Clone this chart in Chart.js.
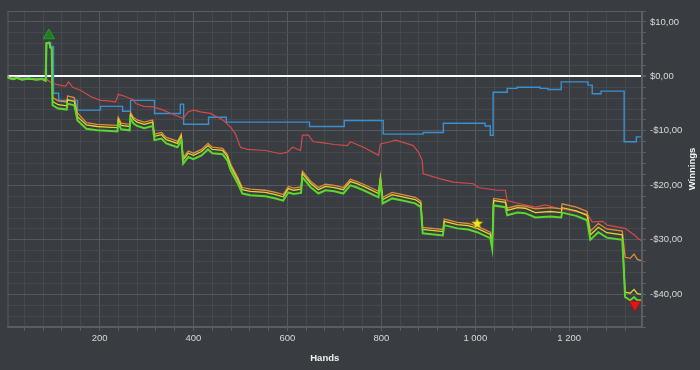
<!DOCTYPE html>
<html>
<head>
<meta charset="utf-8">
<script src="https://cdn.jsdelivr.net/npm/chart.js@4.4.1/dist/chart.umd.min.js"></script>
<style>
  html, body { margin: 0; padding: 0; background: #393c40; }
  #wrap { width: 700px; height: 370px; }
</style>
</head>
<body>
<div id="wrap"><canvas id="chart" width="700" height="370"></canvas></div>
<script>
// hands shared by the green / yellow / orange lines
const netHands = [4, 15, 25, 35, 50, 65, 78, 85, 87, 93, 95, 98,
  100, 112, 130, 132, 146, 149, 153, 172, 195, 215, 238, 240, 246, 264, 266, 272, 280, 295,
  313, 317, 332, 342, 366, 374, 378, 389, 400, 417, 431, 440, 462, 472, 479, 494, 504, 521,
  553, 575, 591, 602, 613, 629, 632, 649, 666, 681, 700, 719, 734, 748, 762, 794, 798, 803,
  823, 845, 872, 884, 888, 931, 934, 962, 985, 1004, 1032, 1036, 1039, 1064, 1068, 1090,
  1106, 1128, 1160, 1183, 1185, 1215, 1238, 1245, 1251, 1262, 1280, 1313, 1319, 1330, 1338, 1345, 1353];

const netWon = [-0.2, -0.5, -0.3, -0.6, -0.4, -0.6, -0.5, -0.8, 6.1, 6.2, 5.3, 5.2,
  -5.3, -5.9, -6.1, -5.0, -5.3, -6.4, -8.1, -9.6, -9.9, -10.0, -10.1, -8.6, -9.7, -9.9, -7.7, -8.6, -9.1, -9.5,
  -9.1, -11.7, -11.4, -12.3, -13.0, -11.7, -16.0, -14.8, -15.2, -14.5, -13.4, -14.1, -14.3, -15.4, -17.2, -19.6, -21.5, -21.8,
  -22.0, -22.4, -22.8, -21.3, -21.6, -21.4, -18.5, -20.3, -21.5, -20.9, -21.1, -21.5, -20.0, -20.4, -20.9, -22.2, -19.4, -23.3,
  -22.4, -22.8, -23.3, -24.0, -28.8, -29.2, -27.3, -27.9, -28.1, -28.6, -29.7, -31.6, -23.7, -24.0, -25.5, -25.0,
  -25.1, -25.9, -25.7, -25.9, -25.0, -25.6, -26.4, -30.0, -29.5, -28.6, -29.6, -30.0, -40.5, -41.1, -40.5, -41.1, -41.1];

const netNoRake = [-0.2, -0.5, -0.3, -0.6, -0.4, -0.6, -0.5, -0.8, 6.1, 6.2, 5.3, 5.2,
  -4.6, -5.2, -5.4, -4.3, -4.6, -5.7, -7.4, -8.9, -9.2, -9.3, -9.4, -7.9, -9.0, -9.2, -7.0, -7.9, -8.4, -8.8,
  -8.4, -11.0, -10.7, -11.6, -12.3, -11.0, -15.3, -14.1, -14.5, -13.8, -12.7, -13.4, -13.6, -14.7, -16.5, -18.9, -20.8, -21.1,
  -21.3, -21.7, -22.1, -20.6, -20.9, -20.7, -17.8, -19.6, -20.8, -20.2, -20.4, -20.8, -19.3, -19.7, -20.2, -21.5, -18.7, -22.6,
  -21.7, -22.1, -22.6, -23.3, -28.1, -28.5, -26.6, -27.2, -27.4, -27.9, -29.0, -30.9, -22.8, -23.1, -24.6, -24.1,
  -24.2, -25.0, -24.8, -25.0, -24.1, -24.7, -25.5, -29.1, -28.6, -27.7, -28.7, -29.1, -39.6, -39.8, -39.1, -39.9, -40.0];

const allInEv = [-0.2, -0.5, -0.3, -0.6, -0.4, -0.6, -0.5, -0.8, 6.1, 6.2, 5.3, 5.2,
  -3.9, -4.5, -4.7, -3.6, -3.9, -5.0, -6.7, -8.5, -8.8, -8.9, -9.0, -7.5, -8.6, -8.8, -6.6, -7.5, -8.0, -8.4,
  -8.0, -10.6, -10.3, -11.2, -11.9, -10.6, -14.9, -13.7, -14.1, -13.4, -12.3, -13.0, -13.2, -14.3, -16.1, -18.5, -20.4, -20.7,
  -20.9, -21.3, -21.7, -20.2, -20.5, -20.3, -17.4, -19.2, -20.4, -19.8, -20.0, -20.4, -18.9, -19.3, -19.8, -21.1, -18.3, -22.2,
  -21.3, -21.7, -22.2, -22.9, -27.7, -28.1, -26.2, -26.8, -27.0, -27.5, -28.6, -30.5, -22.4, -22.7, -24.2, -23.7,
  -23.8, -24.3, -24.1, -24.3, -23.4, -24.0, -24.8, -28.4, -27.9, -27.0, -28.0, -28.4, -33.2, -33.4, -32.6, -33.6, -33.8];

// red line (non showdown)
const redHands = [4, 25, 50, 78, 88, 100, 115, 128, 134, 143, 160, 181, 202, 220, 234, 240, 255, 272, 277, 294,
  315, 336, 357, 378, 389, 400, 415, 436, 464, 479, 489, 500, 515, 553, 585, 600, 611, 628, 632, 645,
  655, 677, 700, 728, 734, 762, 794, 798, 819, 830, 850, 868, 879, 887, 889, 926, 953, 996, 1006, 1047,
  1064, 1068, 1106, 1128, 1149, 1181, 1238, 1249, 1272, 1281, 1319, 1340, 1347, 1353];
const nonShowdown = [-0.2, -0.3, -0.4, -0.5, -0.6, -1.3, -1.6, -1.8, -1.0, -2.0, -2.6, -3.7, -4.4, -4.5, -4.7, -3.3, -3.7, -4.3, -5.0, -5.5,
  -5.6, -6.2, -7.0, -7.7, -6.5, -6.2, -6.5, -6.8, -8.1, -9.3, -10.5, -13.0, -13.4, -13.6, -14.2, -13.9, -13.0, -13.6, -10.8, -10.8,
  -12.0, -12.2, -12.5, -12.7, -12.0, -13.0, -14.5, -12.4, -12.0, -11.7, -12.2, -12.7, -13.9, -15.4, -17.9, -18.8, -19.4, -19.7, -20.4, -20.9,
  -20.9, -22.8, -23.6, -24.0, -23.6, -24.3, -25.2, -26.7, -26.6, -27.3, -27.9, -29.2, -29.8, -30.1];

// blue step line (showdown)
const blueHands = [4, 25, 50, 78, 87, 93, 96, 102, 113, 153, 202, 249, 266, 317, 372, 379, 432, 470, 647, 721,
  804, 889, 932, 1021, 1032, 1038, 1068, 1089, 1138, 1155, 1183, 1240, 1249, 1268, 1317, 1343, 1353];
const showdown = [-0.2, -0.3, -0.4, -0.5, 6.1, 6.2, 5.5, -3.1, -4.4, -6.2, -5.5, -6.4, -4.4, -6.8, -5.1, -8.8, -7.5, -8.4, -9.2, -8.1,
  -10.6, -10.3, -8.6, -9.1, -10.8, -2.9, -2.2, -2.0, -2.2, -2.4, -1.0, -1.6, -3.2, -2.7, -12.0, -11.1, -11.1];

// markers: best point, worst point, star
const maxMark = [92, 7.5];
const minMark = [1340, -41.9];
const starMark = [1004, -27.0];

const xMin = 4, xMax = 1355;
const yMin = -46, yMax = 12;

const pts = (xs, ys) => xs.map((x, i) => ({ x: x, y: ys[i] }));

const money = v => (v < 0 ? '-$' : '$') + Math.abs(v).toFixed(2).replace('.', ',');
const hands = v => String(v).replace(/\B(?=(\d{3})+(?!\d))/g, ' ');

const minorGrid = '#45484d';
const majorGrid = '#55585d';
const frameColor = '#5a5d62';

// small filled star for the star marker
const starImg = document.createElement('canvas');
starImg.width = 13; starImg.height = 13;
const sc = starImg.getContext('2d');
sc.beginPath();
for (let i = 0; i < 10; i++) {
  const r = i % 2 === 0 ? 6 : 2.6;
  const a = -Math.PI / 2 + i * Math.PI / 5;
  sc.lineTo(6.5 + r * Math.cos(a), 6.8 + r * Math.sin(a));
}
sc.closePath();
sc.fillStyle = '#f4e81c';
sc.fill();
sc.strokeStyle = '#9a8c10';
sc.lineWidth = 0.7;
sc.stroke();

const background = {
  id: 'background',
  beforeDraw(chart) {
    const ctx = chart.ctx;
    ctx.save();
    ctx.fillStyle = '#393c40';
    ctx.fillRect(0, 0, chart.width, chart.height);
    ctx.restore();
  },
  beforeDatasetsDraw(chart) {
    const a = chart.chartArea;
    const ctx = chart.ctx;
    ctx.save();
    ctx.strokeStyle = frameColor;
    ctx.lineWidth = 1;
    ctx.strokeRect(a.left + 0.5, a.top + 0.5, a.right - a.left - 1, a.bottom - a.top - 1);
    ctx.restore();
  },
  afterDraw(chart) {
    const a = chart.chartArea;
    const ctx = chart.ctx;
    ctx.save();
    ctx.translate(692, (a.top + a.bottom) / 2);
    ctx.rotate(-Math.PI / 2);
    ctx.fillStyle = '#f0f0f0';
    ctx.font = 'bold 9.5px "Liberation Sans"';
    ctx.textAlign = 'center';
    ctx.textBaseline = 'middle';
    ctx.fillText('Winnings', 0, 0);
    ctx.restore();
  }
};

const ctx = document.getElementById('chart').getContext('2d');
new Chart(ctx, {
  type: 'line',
  data: {
    datasets: [
      {
        data: [{ x: maxMark[0], y: maxMark[1] }],
        showLine: false, pointStyle: 'triangle', pointRadius: 6.5,
        backgroundColor: '#1f7f1f', borderColor: '#2b9a2b', borderWidth: 1
      },
      {
        data: [{ x: minMark[0], y: minMark[1] }],
        showLine: false, pointStyle: 'triangle', rotation: 180, pointRadius: 6.5,
        backgroundColor: '#e5161a', borderColor: '#b80e12', borderWidth: 1
      },
      {
        data: [{ x: starMark[0], y: starMark[1] }],
        showLine: false, pointStyle: starImg, pointRadius: 6
      },
      { data: pts(netHands, netWon), borderColor: '#5ad82c', borderWidth: 2 },
      { data: pts(netHands, netNoRake), borderColor: '#e3d430', borderWidth: 1.3 },
      { data: pts(netHands, allInEv), borderColor: '#e08c3a', borderWidth: 1.3 },
      { data: pts(redHands, nonShowdown), borderColor: '#d24a4a', borderWidth: 1.2 },
      { data: pts(blueHands, showdown), borderColor: '#3a90d0', borderWidth: 1.4, stepped: true }
    ]
  },
  options: {
    responsive: false,
    animation: false,
    parsing: false,
    elements: {
      point: { radius: 0 },
      line: { tension: 0, fill: false }
    },
    layout: { padding: { left: 7, top: 11, right: 0, bottom: 0 } },
    plugins: {
      legend: { display: false },
      tooltip: { enabled: false }
    },
    scales: {
      x: {
        type: 'linear',
        min: xMin,
        max: xMax,
        afterBuildTicks: s => {
          const t = [];
          for (let v = 40; v <= 1320; v += 40) t.push({ value: v });
          s.ticks = t;
        },
        afterFit: s => { s.height = 43; },
        grid: {
          color: c => (c.tick && c.tick.value % 200 === 0) ? majorGrid : minorGrid,
          tickColor: frameColor,
          tickLength: 4
        },
        border: { color: frameColor },
        ticks: {
          autoSkip: false,
          maxRotation: 0,
          padding: 2,
          color: '#d8d8d8',
          font: { family: 'Liberation Sans', size: 9.5 },
          callback: v => v % 200 === 0 ? hands(v) : ''
        },
        title: {
          display: true,
          text: 'Hands',
          color: '#f0f0f0',
          font: { family: 'Liberation Sans', size: 9.5, weight: 'bold' },
          padding: { top: 0, bottom: 6 }
        }
      },
      y: {
        type: 'linear',
        position: 'right',
        min: yMin,
        max: yMax,
        afterBuildTicks: s => {
          const t = [];
          for (let v = yMin; v <= yMax; v += 2) t.push({ value: v });
          s.ticks = t;
        },
        afterFit: s => { s.width = 58; },
        grid: {
          color: c => {
            if (!c.tick) return minorGrid;
            if (c.tick.value === 0) return '#ffffff';
            return c.tick.value % 10 === 0 ? majorGrid : minorGrid;
          },
          lineWidth: c => (c.tick && c.tick.value === 0) ? 2 : 1,
          tickColor: frameColor,
          tickLength: 4
        },
        border: { color: frameColor },
        ticks: {
          autoSkip: false,
          padding: 4,
          color: '#d8d8d8',
          font: { family: 'Liberation Sans', size: 9.5 },
          callback: v => v % 10 === 0 ? money(v) : ''
        }
      }
    }
  },
  plugins: [background]
});
</script>
</body>
</html>
